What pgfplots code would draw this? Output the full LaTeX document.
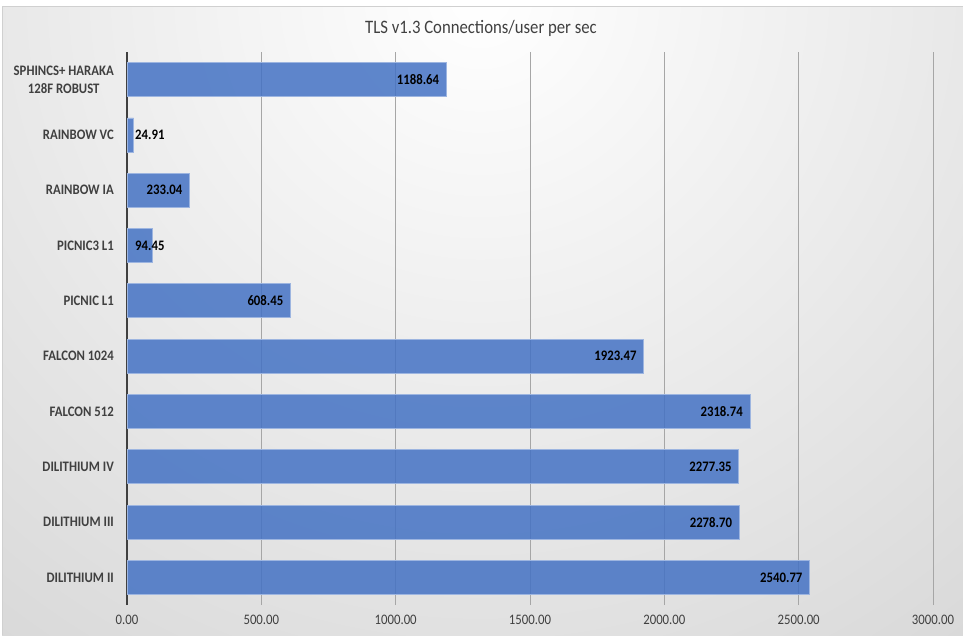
\documentclass[border=0pt]{standalone}
\usepackage{pgfplots}
\usepackage{pgfplotstable}
\pgfplotsset{compat=1.18}
\usepackage{fontspec}
\setmainfont{Carlito}[FakeStretch=0.88]
\definecolor{barblue}{HTML}{4472C4}
\definecolor{baredge}{HTML}{9DB5E0}
\definecolor{txt}{HTML}{404040}
\definecolor{gridc}{HTML}{A6A6A6}
\definecolor{bgout}{HTML}{B8B8B8}
\definecolor{framec}{HTML}{D0D0D0}

\pgfplotstableread{
y v
0 2540.77
1 2278.70
2 2277.35
3 2318.74
4 1923.47
5 608.45
6 94.45
7 233.04
8 24.91
9 1188.64
}\bars

\pgfplotstableread{
y v
0 2540.77
1 2278.70
2 2277.35
3 2318.74
4 1923.47
5 608.45
7 233.04
9 1188.64
}\inend

\pgfplotstableread{
y v
6 94.45
8 24.91
}\inbase

\begin{document}
\begin{tikzpicture}
\useasboundingbox (0pt,0pt) rectangle (963pt,635pt);
\fill[white] (0pt,0pt) rectangle (963pt,635pt);
\begin{scope}
\clip (2pt,0pt) rectangle (963pt,628pt);
\shade[inner color=white, outer color=bgout] (480pt,640pt) circle (1500pt);
\end{scope}
\draw[framec, line width=1pt] (2pt,0pt) -- (2pt,628pt) -- (963pt,628pt);
\node[text=txt, font=\fontsize{19}{22}\selectfont, inner sep=0pt] at (481pt,607pt) {TLS v1.3 Connections/user per sec};
\begin{axis}[
  at={(127pt,30pt)}, anchor=south west, scale only axis,
  width=806pt, height=553pt,
  xmin=0, xmax=3000, ymin=-0.5, ymax=9.5,
  axis lines*=left,
  x axis line style={draw=none},
  y axis line style={draw=txt, line width=1.1pt},
  xtick={0,500,...,3000},
  ytick={0,...,9},
  yticklabels={DILITHIUM II, DILITHIUM III, DILITHIUM IV, FALCON 512, FALCON 1024, PICNIC L1, PICNIC3 L1, RAINBOW IA, RAINBOW VC, {SPHINCS+ HARAKA\\128F ROBUST}},
  major tick length=0pt,
  xmajorgrids,
  grid style={gridc, line width=0.8pt},
  scaled x ticks=false,
  /pgf/number format/assume math mode=true,
  xticklabel style={font=\fontsize{14.5}{16}\selectfont, text=txt, inner sep=0pt, yshift=-10pt,
    /pgf/number format/fixed, /pgf/number format/fixed zerofill,
    /pgf/number format/precision=2, /pgf/number format/1000 sep={}},
  yticklabel style={align=center, font=\bfseries\fontsize{14.5}{18}\selectfont, text=txt, inner sep=0pt, xshift=-13pt},
  clip=false,
]
\addplot[xbar, bar width=34pt, fill=barblue, fill opacity=0.85, draw=baredge, line width=0.8pt]
  table[x=v, y=y] {\bars};
\addplot[draw=none, mark=none, nodes near coords, point meta=\thisrow{v},
  nodes near coords style={anchor=east, inner sep=0pt, xshift=-7pt, text=black,
    font=\bfseries\fontsize{14.5}{16}\selectfont,
    /pgf/number format/fixed, /pgf/number format/fixed zerofill,
    /pgf/number format/precision=2, /pgf/number format/1000 sep={}, /pgf/number format/assume math mode=true}]
  table[x=v, y=y] {\inend};
\addplot[draw=none, mark=none, nodes near coords, point meta=\thisrow{v},
  nodes near coords style={anchor=west, inner sep=0pt, xshift=8pt, text=black,
    font=\bfseries\fontsize{14.5}{16}\selectfont,
    /pgf/number format/fixed, /pgf/number format/fixed zerofill,
    /pgf/number format/precision=2, /pgf/number format/1000 sep={}, /pgf/number format/assume math mode=true}]
  table[x expr=0, y=y] {\inbase};
\end{axis}
\end{tikzpicture}
\end{document}
